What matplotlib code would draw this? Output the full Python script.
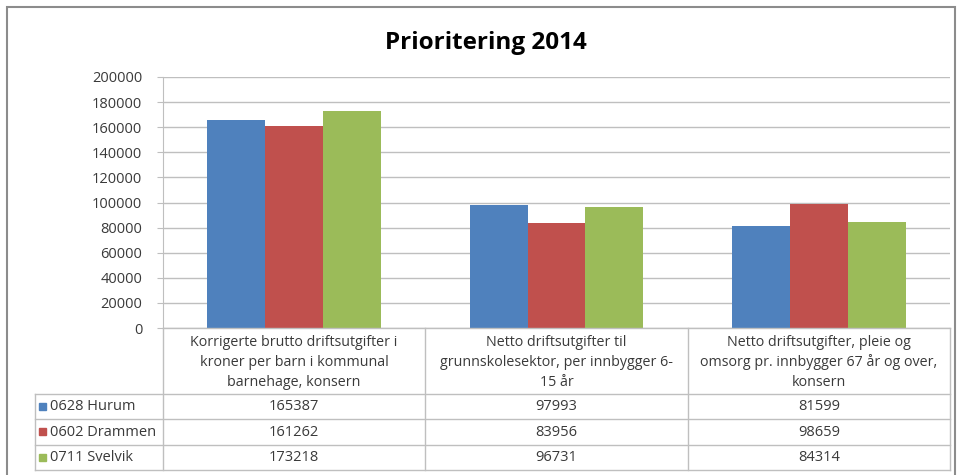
import numpy as np
import matplotlib
matplotlib.use('Agg')
import matplotlib.pyplot as plt
from matplotlib.patches import Rectangle
from matplotlib.lines import Line2D

plt.rcParams['font.family'] = ['Open Sans', 'DejaVu Sans']

#### Data ####
title = 'Prioritering 2014'
categories = ['Korrigerte brutto driftsutgifter i\nkroner per barn i kommunal\nbarnehage, konsern',
              'Netto driftsutgifter til\ngrunnskolesektor, per innbygger 6-\n15 år',
              'Netto driftsutgifter, pleie og\nomsorg pr. innbygger 67 år og over,\nkonsern']
series = ['0628 Hurum', '0602 Drammen', '0711 Svelvik']
hurum = [165387, 97993, 81599]
drammen = [161262, 83956, 98659]
svelvik = [173218, 96731, 84314]
yticks = [0, 20000, 40000, 60000, 80000, 100000, 120000, 140000, 160000, 180000, 200000]

values = [hurum, drammen, svelvik]
colors = ['#4F81BD', '#C0504D', '#9BBB59']
gridc = '#BFBFBF'
txtc = '#3A3A3A'

W, H = 957, 475
fig = plt.figure(figsize=(W/100, H/100), dpi=100)

def fx(px):
    return px/W

def fy(py):
    return 1 - py/H

# plot area in pixel coords
xl, xr, yt, yb = 163, 950, 77, 328
ax = fig.add_axes([fx(xl), fy(yb), fx(xr)-fx(xl), fy(yt)-fy(yb)])

x = np.arange(len(categories))
bw = 0.221
for i in range(len(series)):
    ax.bar(x + (i-1)*bw, values[i], width=bw, color=colors[i], zorder=3)

ax.set_xlim(-0.5, len(categories)-0.5)
ax.set_ylim(0, 200000)
ax.set_yticks(yticks)
ax.set_yticklabels([str(t) for t in yticks], fontsize=10.5, color=txtc)
ax.set_xticks([])
ax.yaxis.grid(True, color=gridc, lw=1, zorder=0)
for s in ['top', 'right', 'bottom']:
    ax.spines[s].set_visible(False)
ax.spines['left'].set_color(gridc)
ax.tick_params(axis='y', length=4, color=gridc, pad=11)

#### Data table ####
col_x = [xl + (xr-xl)*k/len(categories) for k in range(len(categories)+1)]
row_y = [yb, 394, 419, 445, 470]
leg_x = 35
lc = gridc
def hline(y, x0, x1):
    fig.add_artist(Line2D([fx(x0), fx(x1)], [fy(y), fy(y)], color=lc, lw=1))
def vline(xp, y0, y1):
    fig.add_artist(Line2D([fx(xp), fx(xp)], [fy(y0), fy(y1)], color=lc, lw=1))

hline(yb, xl, xr)
for y in row_y[1:]:
    hline(y, leg_x, xr)
for xp in col_x:
    vline(xp, yb, row_y[-1])
vline(leg_x, row_y[1], row_y[-1])

# header cells: each wrapped line centred on its own
for j, cat in enumerate(categories):
    cx = (col_x[j] + col_x[j+1])/2
    for k, part in enumerate(cat.split('\n')):
        fig.text(fx(cx), fy(342 + 20*k), part, ha='center', va='center',
                 fontsize=10.3, color=txtc)
    for i in range(len(series)):
        fig.text(fx(cx), fy((row_y[i+1]+row_y[i+2])/2), str(values[i][j]),
                 ha='center', va='center', fontsize=10.5, color=txtc)

for i, name in enumerate(series):
    yc = (row_y[i+1]+row_y[i+2])/2
    fig.add_artist(Rectangle((fx(39), fy(yc+3)), fx(7), 7/H, color=colors[i]))
    fig.text(fx(50), fy(yc), name, ha='left', va='center', fontsize=10.5, color=txtc)

#### Title and frame ####
fig.text(fx(486), fy(43), title, ha='center', va='center', fontsize=17.5,
         fontweight='bold', color='black')
fig.add_artist(Rectangle((fx(7), fy(490)), fx(948), 483/H, fill=False,
                         edgecolor='#8C8C8C', lw=1.5))

fig.savefig('out.png', dpi=100)
